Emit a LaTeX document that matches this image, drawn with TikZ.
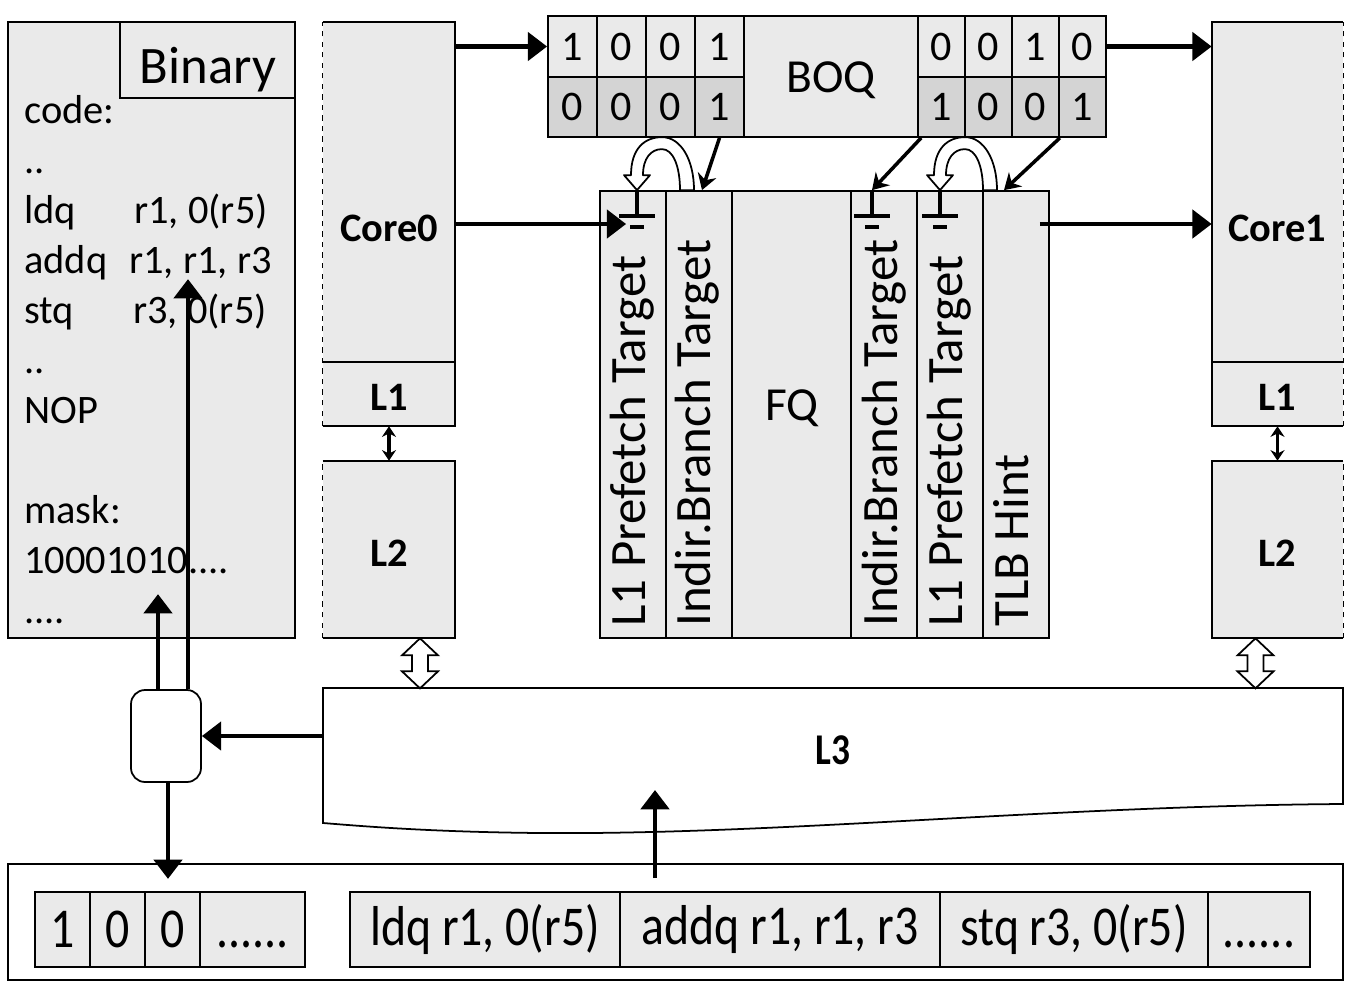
\documentclass[tikz,border=0pt]{standalone}
\usepackage{fontspec}
\setmainfont{Carlito}
\usetikzlibrary{arrows.meta, calc, fit}

\definecolor{boxgray}{RGB}{234,234,234}
\definecolor{cellgray}{RGB}{212,212,212}

% font sizes
\newcommand{\fsbin}{\fontsize{30}{36}\selectfont}
\newcommand{\fsasm}{\fontsize{23}{28}\selectfont}
\newcommand{\fsvert}{\fontsize{29}{35}\selectfont}
\newcommand{\fsboq}{\fontsize{27}{32}\selectfont}
\newcommand{\fsdigit}{\fontsize{24}{29}\selectfont}
\newcommand{\fscore}{\fontsize{23}{28}\selectfont\bfseries}
\newcommand{\fsmem}{\fontsize{32}{38}\selectfont}
\newcommand{\sqz}[1]{\scalebox{0.85}[1]{#1}}

\tikzset{
    ground/.pic={
        \draw[line width=2.2pt] (0,0) -- (0,26) (-18,26) -- (18,26) (-7,37) -- (7,37);
    },
    looparrow/.pic={
        \draw[line width=1pt, fill=white, line join=round] (0,0) -- (-13,-15) -- (-6,-15)
            .. controls (-6,-42) and (8,-53) .. (25,-53)
            .. controls (44,-53) and (57,-30) .. (57,0) -- (43,0)
            .. controls (43,-24) and (36,-41) .. (25,-41)
            .. controls (14,-41) and (6,-32) .. (6,-15) -- (13,-15) -- cycle;
    },
    bigdbl/.pic={
        \draw[line width=1pt, fill=white] (0,0) -- (18,17) -- (8,17) -- (8,33) -- (18,33) -- (0,50)
            -- (-18,33) -- (-8,33) -- (-8,17) -- (-18,17) -- cycle;
    },
}

\begin{document}
\begin{tikzpicture}[
    x=0.02cm, y=-0.02cm,
    box/.style={draw, fill=boxgray, line width=1pt, inner sep=0pt},
    wbox/.style={draw, fill=white, line width=1pt, inner sep=0pt},
    shade/.style={fill=boxgray, inner sep=0pt},
    open side/.style={dashed, line width=0.8pt},
    txt/.style={inner sep=0pt},
    asm/.style={anchor=base west, inner sep=0pt, font=\fsasm},
    vlabel/.style={rotate=90, anchor=base west, inner sep=0pt, font=\fsvert},
    arr/.style={line width=2.6pt, -{Triangle[length=11pt, width=16pt]}},
    hint/.style={line width=2pt, -{Stealth[length=9pt, width=11pt, inset=3pt]}},
    dbl/.style={line width=2pt, {Stealth[length=6pt, width=8pt]}-{Stealth[length=6pt, width=8pt]}},
]
    \fill[white] (0,0) rectangle (1353,988);
    \useasboundingbox (0,0) rectangle (1353,988);

    % Binary image
    \node[box, fit={(8,22) (295,638)}] (bin) {};
    \node[box, fit={(120,22) (295,98)}] (binhead) {};
    \node[anchor=base, inner sep=0pt, font=\fsbin] (bintitle) at (208,83) {Binary};
    \node[asm] (code) at (24,123) {code:};
    \node[asm] (gap1) at (24,173) {..};
    \node[asm] (ldq) at (24,223) {ldq};
    \node[asm] (ldqops) at (134,223) {r1, 0(r5)};
    \node[asm] (addq) at (24,273) {addq};
    \node[asm] (addqops) at (129,273) {r1, r1, r3};
    \node[asm] (stq) at (24,323) {stq};
    \node[asm] (stqops) at (133,323) {r3, 0(r5)};
    \node[asm] (gap2) at (24,373) {..};
    \node[asm] (nop) at (24,423) {NOP};
    \node[asm] (mask) at (24,523) {mask:};
    \node[asm] (maskbits) at (24,573) {10001010....};
    \node[asm] (gap3) at (24,623) {....};

    % Core0 with L1 and L2
    \node[shade, fit={(323,22) (455,426)}] (core0) {};
    \node[txt, font=\fscore] (core0lbl) at (389,228) {Core0};
    \node[shade, fit={(323,362) (455,426)}] (l1a) {};
    \node[txt, font=\fscore] (l1albl) at (389,397) {L1};
    \draw[line width=1pt] (core0.north west) -- (core0.north east) -- (core0.south east) -- (core0.south west);
    \draw[open side] (core0.south west) -- (core0.north west);
    \draw[line width=1pt] (l1a.north west) -- (l1a.north east);
    \node[shade, fit={(323,461) (455,638)}] (l2a) {};
    \node[txt, font=\fscore] (l2albl) at (389,553) {L2};
    \draw[line width=1pt] (l2a.north west) -- (l2a.north east) -- (l2a.south east) -- (l2a.south west);
    \draw[open side] (l2a.south west) -- (l2a.north west);

    % Core1 with L1 and L2
    \node[shade, fit={(1212,22) (1343,426)}] (core1) {};
    \node[txt, font=\fscore] (core1lbl) at (1277,228) {Core1};
    \node[shade, fit={(1212,362) (1343,426)}] (l1b) {};
    \node[txt, font=\fscore] (l1blbl) at (1277,397) {L1};
    \draw[line width=1pt] (core1.north east) -- (core1.north west) -- (core1.south west) -- (core1.south east);
    \draw[open side] (core1.south east) -- (core1.north east);
    \draw[line width=1pt] (l1b.north west) -- (l1b.north east);
    \node[shade, fit={(1212,461) (1343,638)}] (l2b) {};
    \node[txt, font=\fscore] (l2blbl) at (1277,553) {L2};
    \draw[line width=1pt] (l2b.north east) -- (l2b.north west) -- (l2b.south west) -- (l2b.south east);
    \draw[open side] (l2b.south east) -- (l2b.north east);

    % BOQ
    \node[box, fit={(548,16) (1106,137)}] (boq) {};
    \node[txt, font=\fsboq] (boqlbl) at (831,80) {BOQ};
    \foreach \v [count=\i] in {1,0,0,1} {
        \node[box, fit={({499+49*\i},16) ({548+49*\i},77)}] (tl\i) {};
        \node[txt, font=\fsdigit] at (tl\i) {\v};
    }
    \foreach \v [count=\i] in {0,0,0,1} {
        \node[box, fill=cellgray, fit={({499+49*\i},77) ({548+49*\i},137)}] (bl\i) {};
        \node[txt, font=\fsdigit] at (bl\i) {\v};
    }
    \foreach \v [count=\i] in {0,0,1,0} {
        \node[box, fit={({871+47*\i},16) ({918+47*\i},77)}] (tr\i) {};
        \node[txt, font=\fsdigit] at (tr\i) {\v};
    }
    \foreach \v [count=\i] in {1,0,0,1} {
        \node[box, fill=cellgray, fit={({871+47*\i},77) ({918+47*\i},137)}] (br\i) {};
        \node[txt, font=\fsdigit] at (br\i) {\v};
    }

    % FQ
    \node[box, fit={(600,191) (666,638)}] (fq1) {};
    \node[box, fit={(666,191) (732,638)}] (fq2) {};
    \node[box, fit={(732,191) (851,638)}] (fq3) {};
    \node[box, fit={(851,191) (917,638)}] (fq4) {};
    \node[box, fit={(917,191) (983,638)}] (fq5) {};
    \node[box, fit={(983,191) (1049,638)}] (fq6) {};
    \node[txt, font=\fsboq] (fqlbl) at (792,408) {FQ};
    \node[vlabel] (pf0) at (645,627) {L1 Prefetch Target};
    \node[vlabel] (ib0) at (710,627) {Indir.Branch Target};
    \node[vlabel] (ib1) at (897,627) {Indir.Branch Target};
    \node[vlabel] (pf1) at (962,627) {L1 Prefetch Target};
    \node[vlabel] (tlb) at (1028,627) {TLB Hint};

    % masked slots
    \pic at ($(fq1.north)+(4,0)$) {ground};
    \pic at ($(fq4.north)+(-12,0)$) {ground};
    \pic at ($(fq5.north)+(-10,0)$) {ground};
    \pic at ($(fq1.north)+(4,0)$) {looparrow};
    \pic at ($(fq5.north)+(-10,0)$) {looparrow};

    % BOQ to FQ
    \draw[hint] (bl4.south) -- ($(fq2.north)+(3,0)$);
    \draw[hint] ($(br1.south west)+(4,0)$) -- ($(fq4.north)+(-12,0)$);
    \draw[hint] (br3.south east) -- ($(fq6.north)+(-12,0)$);

    % L3
    \draw[line width=1pt, fill=white] (323,688) -- (1343,688) -- (1343,804)
        .. controls (1050,806) and (780,835) .. (540,833)
        .. controls (430,832) and (360,826) .. (323,823) -- cycle;
    \node[inner sep=0pt, fit={(323,688) (1343,812)}] (l3) {};
    \node[txt, font=\fontsize{25}{30}\selectfont\bfseries] (l3lbl) at (833,750) {\sqz{L3}};

    % cache links
    \draw[dbl] (l1a.south) -- (l2a.north);
    \draw[dbl] (l1b.south) -- (l2b.north);
    \pic at ($(l2a.south)+(31,0)$) {bigdbl};
    \pic at ($(l2b.south)+(-22,0)$) {bigdbl};

    % memory image
    \node[wbox, fit={(8,864) (1343,980)}] (mem) {};
    \node[box, fit={(35,892) (90,967)}] (m1) {};
    \node[box, fit={(90,892) (145,967)}] (m2) {};
    \node[box, fit={(145,892) (200,967)}] (m3) {};
    \node[box, fit={(200,892) (305,967)}] (m4) {};
    \node[box, fit={(350,892) (620,967)}] (i1) {};
    \node[box, fit={(620,892) (940,967)}] (i2) {};
    \node[box, fit={(940,892) (1208,967)}] (i3) {};
    \node[box, fit={(1208,892) (1310,967)}] (i4) {};
    \node[txt, font=\fsmem] at (m1) {\sqz{1}};
    \node[txt, font=\fsmem] at (m2) {\sqz{0}};
    \node[txt, font=\fsmem] at (m3) {\sqz{0}};
    \node[txt, font=\fsmem] at (m4) {\sqz{......\vphantom{0}}};
    \node[txt, font=\fsmem] at (i1) {\sqz{ldq r1, 0(r5)}};
    \node[txt, font=\fsmem] at (i2) {\sqz{addq r1, r1, r3}};
    \node[txt, font=\fsmem] at (i3) {\sqz{stq r3, 0(r5)}};
    \node[txt, font=\fsmem] at (i4) {\sqz{......\vphantom{0}}};

    % loader
    \node[wbox, rounded corners=8pt, fit={(131,690) (201,782)}] (mux) {};

    % Arrows
    \draw[arr] (core0.east |- tl1.west) -- (tl1.west);
    \draw[arr] (tr4.east) -- (core1.west |- tr4.east);
    \draw[arr] (core0.east) -- ($(fq1.west |- core0.east)+(27,0)$);
    \draw[arr] ($(fq6.east |- core1.west)+(-10,0)$) -- (core1.west);
    \draw[arr] (l3.west |- mux.east) -- (mux.east);
    \draw[arr] ($(mux.north)+(-8,0)$) -- ($(mux.north)+(-8,-95)$);
    \draw[arr] ($(mux.north)+(22,0)$) -- ($(mux.north)+(22,-410)$);
    \draw[arr] ($(mux.south)+(2,0)$) -- ($(mux.south)+(2,96)$);
    \coordinate (fetch) at (655,878);
    \draw[arr] (fetch) -- ++(0,-88);
\end{tikzpicture}
\end{document}
